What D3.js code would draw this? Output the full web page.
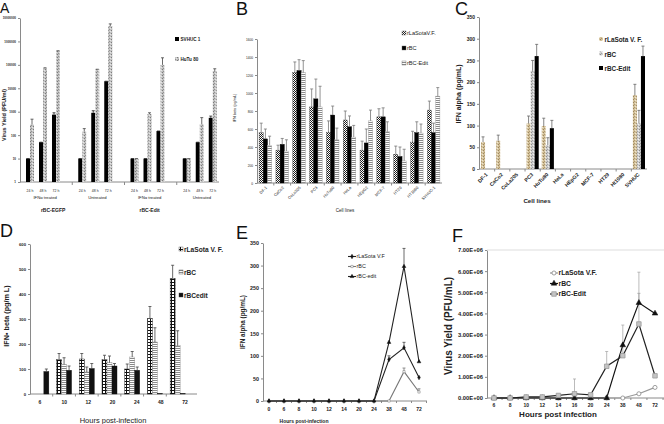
<!DOCTYPE html>
<html><head><meta charset="utf-8">
<script src="https://cdn.jsdelivr.net/npm/d3@7"></script>
<style>body{margin:0;background:#fff}svg{display:block}</style>
</head><body><svg id="c" width="664" height="424"></svg>
<script>
// ---------- Panel A ----------
const aTimes = ["24 h","48 h","72 h"];
const aConditions = ["IFNα treated","Untreated","IFNα treated","Untreated"];
const aViruses = ["rBC-EGFP","rBC-Edit"];
const aSeries = ["SVHUC 1","HuTu 80"];
const aSVHUC =    [10,50,750,   10,900,20000,   10,10,150,    10,50,550];
const aSVHUCErr = [10,50,900,   10,1100,20000,  10,10,150,    10,50,650];
const aHuTu =     [280,70000,400000, 140,65000,4500000, 10,800,100000, 10,300,55000];
const aHuTuErr =  [480,75000,400000, 190,65000,5600000, 10,900,200000, 10,560,68000];
const aTicks = [1,10,100,1000,10000,100000,1000000,10000000];
// ---------- Panel B ----------
const bCells = ["DF-1","CaCo2","CoLo205","PC3","HuTu80","HeLa","HEpG2","MCF-7","HT29","HT1080","SVHUC-1"];
const bSeries = ["rLaSotaV.F.","rBC","rBC-Edit"];
const bLaSota =    [560,365,1230,845,565,700,365,735,320,455,810];
const bLaSotaErr = [665,420,1345,1045,690,800,465,825,410,575,910];
const bRBC =       [490,430,1250,935,755,625,445,735,295,560,560];
const bRBCErr =    [600,495,1370,1155,855,745,600,835,400,680,665];
const bEdit =      [420,355,1225,845,480,510,690,570,245,555,965];
const bEditErr =   [520,480,1360,1075,610,640,810,680,375,655,1060];
const bTicks = [0,200,400,600,800,1000,1200,1400,1600];
// ---------- Panel C ----------
const cCells = ["DF-1","CaCo2","CoLa205","PC3","HuTu80","HeLa","HEpG2","MCF-7","HT29","Ht1080","SVHUC"];
const cSeries = ["rLaSota V. F.","rBC","rBC-Edit"];
const cLaSota =    [62,65,null,105,99,null,null,null,null,null,170];
const cLaSotaErr = [74,78,null,122,117,null,null,null,null,null,195];
const cRBC =       [null,null,null,226,55,null,null,null,null,null,105];
const cRBCErr =    [null,null,null,250,72,null,null,null,null,null,135];
const cEdit =      [null,null,null,260,94,null,null,null,null,null,260];
const cEditErr =   [null,null,null,287,112,null,null,null,null,null,283];
const cTicks = [0,50,100,150,200,250,300,350];
// ---------- Panel D ----------
const dHours = ["6","10","12","20","24","48","72"];
const dSeries = ["rLaSota V. F.","rBC","rBCedit"];
const dLaSota =    [null,137,140,137,100,302,462];
const dLaSotaErr = [null,162,162,155,120,350,515];
const dRBC =       [null,118,88,125,148,208,193];
const dRBCErr =    [null,145,108,152,170,265,253];
const dEdit =      [90,95,102,112,95,2,2];
const dEditErr =   [100,112,122,122,108,null,null];
const dTicks = [0,100,200,300,400,500,600];
// ---------- Panel E ----------
const eHours = ["0","6","8","10","12","14","20","24","38","48","72"];
const eSeries = ["rLaSota V.F","rBC","rBC-edit"];
const eLaSota =    [0,0,0,0,0,0,0,0,92,118,52];
const eLaSotaErr = [null,null,null,null,null,null,null,null,100,130,null];
const eRBC =       [0,0,0,0,0,0,0,0,0,65,20];
const eRBCErr =    [null,null,null,null,null,null,null,null,null,73,27];
const eEdit =      [0,0,0,0,0,0,0,0,130,298,87];
const eEditErr =   [null,null,null,null,null,null,null,null,null,338,null];
const eTicks = [0,50,100,150,200,250,300,350];
// ---------- Panel F ----------
const fHours = ["6","8","10","12","14","16","20","24","38","48","72"];
const fSeries = ["rLaSota V.F.","rBC","rBC-Edit"];
const fLaSota =    [0,0,0,0,0,0,0,0,0,200000,500000];
const fRBC =       [0,0,0,0,0,0,0,0,2500000,4500000,4000000];
const fRBCErr =    [null,null,null,null,null,null,null,null,null,4950000,null];
const fEdit =      [0,0,50000,50000,120000,200000,150000,1500000,2000000,3500000,1050000];
const fEditErr =   [null,null,null,null,null,900000,null,2200000,3450000,5950000,null];
const fTicks = [0,1e6,2e6,3e6,4e6,5e6,6e6,7e6];

const FONT = '"Liberation Sans", Arial, sans-serif';
const svg = d3.select("#c").attr("font-family", FONT);
svg.append("rect").attr("width",664).attr("height",424).attr("fill","#fff");
const defs = svg.append("defs");
function pat(id, w, h, bg, cells, col){
  const p = defs.append("pattern").attr("id",id).attr("patternUnits","userSpaceOnUse").attr("width",w).attr("height",h);
  p.append("rect").attr("width",w).attr("height",h).attr("fill",bg);
  cells.forEach(c => p.append("rect").attr("x",c[0]).attr("y",c[1]).attr("width",c[2]).attr("height",c[3]).attr("fill",c[4]||col));
}
pat("speckGray",3,3,"#c2c2c2",[[0,0,1,1,"#7c7c7c"],[2,1,1,1,"#e6e6e6"],[1,2,1,1,"#939393"]]);
pat("speckGray2",3,3,"#cfcfcf",[[0,0,1,1,"#8e8e8e"],[2,1,1,1,"#f2f2f2"],[1,2,1,1,"#a4a4a4"]]);
pat("tan",3,3,"#d3c19a",[[0,0,1,1,"#9c8660"],[2,1,1,1,"#efe6d0"],[1,2,1,1,"#b09a70"]]);
pat("checker",2,2,"#fff",[[0,0,1,1],[1,1,1,1]],"#1e1e1e");
pat("hstripe",3,2,"#fff",[[0,0,3,1]],"#8a8a8a");
pat("grid",3,3,"#fff",[[0,0,3,1],[0,0,1,3]],"#111");

function yAxis(x, scale, ticks, fmt, fs, fw){
  const g = svg.append("g").attr("transform",`translate(${x},0)`)
    .call(d3.axisLeft(scale).tickValues(ticks).tickFormat(fmt).tickSize(2).tickSizeOuter(0).tickPadding(2));
  g.attr("font-family",FONT);
  g.select(".domain").attr("stroke","#8a8a8a");
  g.selectAll(".tick line").attr("stroke","#8a8a8a");
  g.selectAll("text").attr("font-size",fs).attr("font-weight",fw||"normal").attr("fill","#222");
  return g;
}
function hline(x1,x2,y,col){ svg.append("line").attr("x1",x1).attr("x2",x2).attr("y1",y).attr("y2",y).attr("stroke",col||"#8a8a8a").attr("stroke-width",1); }
function text(x,y,s,fs,opt){
  opt = opt||{};
  const t = svg.append("text").attr("x",x).attr("y",y).text(s).attr("font-size",fs)
    .attr("font-weight",opt.fw||"normal").attr("text-anchor",opt.anchor||"start").attr("fill",opt.fill||"#222");
  if(opt.rot) t.attr("transform",`rotate(${opt.rot},${x},${y})`);
  return t;
}
function errBar(g, x, y0, y1, col, cap){
  g.append("line").attr("x1",x).attr("x2",x).attr("y1",y0).attr("y2",y1).attr("stroke",col).attr("stroke-width",0.8);
  g.append("line").attr("x1",x-cap).attr("x2",x+cap).attr("y1",y1).attr("y2",y1).attr("stroke",col).attr("stroke-width",0.8);
}
// panel letters
text(0,12.8,"A",14,{fill:"#111"});
[["B",236,15],["C",455,15],["D",0,237],["E",236,239],["F",452,242]].forEach(p=>text(p[1],p[2],p[0],18,{fill:"#111"}));

// ===== Panel A =====
(function(){
  const y = d3.scaleLog().domain([1,1e7]).range([182,18]);
  const x0 = d3.scaleBand().domain(d3.range(aConditions.length)).range([17,226]);
  const x1 = d3.scalePoint().domain(aTimes).range([13,39]);
  const bw = 4;
  yAxis(20, y, aTicks, d3.format("d"), 3, "bold");
  hline(20,219,182);
  d3.range(1,aConditions.length).forEach(i=>{ const xx = x0(i)+3; svg.append("line").attr("x1",xx).attr("x2",xx).attr("y1",182).attr("y2",185).attr("stroke","#8a8a8a"); });
  const g = svg.append("g");
  const rows = [];
  aConditions.forEach((c,ci)=>aTimes.forEach((t,ti)=>rows.push({ci,t,i:ci*3+ti})));
  rows.forEach(r=>{
    const cx = x0(r.ci)+x1(r.t);
    g.append("rect").attr("x",cx-bw).attr("width",bw).attr("y",y(aSVHUC[r.i])).attr("height",y(1)-y(aSVHUC[r.i])).attr("fill","#000");
    g.append("rect").attr("x",cx).attr("width",bw).attr("y",y(aHuTu[r.i])).attr("height",y(1)-y(aHuTu[r.i])).attr("fill","url(#speckGray)");
    errBar(g, cx-bw/2, y(aSVHUC[r.i]), y(aSVHUCErr[r.i]), "#222", 1.5);
    errBar(g, cx+bw/2, y(aHuTu[r.i]), y(aHuTuErr[r.i]), "#444", 1.5);
    text(cx,192,r.t,3.5,{anchor:"middle"});
  });
  aConditions.forEach((c,ci)=>text(x0(ci)+x0.bandwidth()/2+2,198.5,c,4.2,{anchor:"middle"}));
  aViruses.forEach((v,vi)=>text(x0(vi*2)+x0.bandwidth()/2+(vi?2:10),212,v,5,{anchor:"middle",fw:"bold"}));
  text(6,115,"Virus Yield (PFU/ml)",5.5,{anchor:"middle",fw:"bold",rot:-90});
  aSeries.forEach((s,i)=>{
    svg.append("rect").attr("x",175).attr("y",37+i*20).attr("width",4).attr("height",4).attr("fill",i?"url(#speckGray)":"#000");
    text(180.5,41+i*20,s,4.6,{fw:"bold"});
  });
})();

// ===== Grouped bar helper =====
function groupBars(cfg){
  const y = d3.scaleLinear().domain(cfg.ydom).range(cfg.yr);
  const x0 = d3.scaleBand().domain(cfg.cats).range(cfg.xr).paddingInner(cfg.pi).paddingOuter(cfg.po);
  const x1 = d3.scaleBand().domain(cfg.series).range([0,x0.bandwidth()]);
  yAxis(cfg.axisX, y, cfg.ticks, cfg.fmt||d3.format("d"), cfg.tfs, cfg.tfw);
  hline(cfg.axisX, cfg.axisEnd, cfg.yr[0]);
  cfg.cats.forEach((c,i)=>{ if(i>0){ const xx=x0(c)-x0.step()*x0.paddingInner()/2; svg.append("line").attr("x1",xx).attr("x2",xx).attr("y1",cfg.yr[0]).attr("y2",cfg.yr[0]+2.5).attr("stroke","#8a8a8a"); }});
  const g = svg.append("g");
  cfg.series.forEach((s,si)=>{
    cfg.vals[si].forEach((v,ci)=>{
      if(v==null) return;
      const xx = x0(cfg.cats[ci])+x1(s);
      g.append("rect").attr("x",xx).attr("width",x1.bandwidth()).attr("y",y(v)).attr("height",y(0)-y(v)).attr("fill",cfg.fills[si])
        .attr("stroke",cfg.strokes?cfg.strokes[si]:"none").attr("stroke-width",0.4);
      const e = cfg.errs[si][ci];
      if(e!=null) errBar(g, xx+x1.bandwidth()/2, y(v), y(e), cfg.errCol, 1.5);
    });
  });
  return {x0,y};
}

// ===== Panel B =====
(function(){
  const r = groupBars({ydom:[0,1600], yr:[183,39], cats:bCells, series:bSeries, xr:[257,442], pi:0.25, po:0.125,
    axisX:257, axisEnd:442, ticks:bTicks, tfs:3.2, vals:[bLaSota,bRBC,bEdit], errs:[bLaSotaErr,bRBCErr,bEditErr],
    fills:["url(#checker)","#000","url(#hstripe)"], strokes:["#555","#000","#999"], errCol:"#777"});
  bCells.forEach(c=>text(r.x0(c)+r.x0.bandwidth()/2+2,188,c,4,{anchor:"end",rot:-45}));
  text(345,212,"Cell lines",4.6,{anchor:"middle"});
  text(236,108,"IFN beta (pg/mL)",3.8,{anchor:"middle",rot:-90});
  const lf = ["url(#checker)","#000","url(#hstripe)"];
  bSeries.forEach((s,i)=>{
    svg.append("rect").attr("x",402).attr("y",31+i*15).attr("width",4).attr("height",4).attr("fill",lf[i]).attr("stroke","#666").attr("stroke-width",0.4);
    text(407,35+i*15,s,5.6,{});
  });
})();

// ===== Panel C =====
(function(){
  const r = groupBars({ydom:[0,350], yr:[169,17], cats:cCells, series:cSeries, xr:[481,645], pi:0.2, po:0,
    axisX:479, axisEnd:647, ticks:cTicks, tfs:5, tfw:"bold", vals:[cLaSota,cRBC,cEdit], errs:[cLaSotaErr,cRBCErr,cEditErr],
    fills:["url(#tan)","url(#speckGray2)","#000"], errCol:"#666"});
  cCells.forEach(c=>text(r.x0(c)+r.x0.bandwidth()/2+1,175,c,5.2,{anchor:"end",rot:-45,fw:"bold"}));
  text(537,203,"Cell lines",6.2,{anchor:"middle",fw:"bold"});
  text(461,94,"IFN alpha (pg/mL)",7,{anchor:"middle",fw:"bold",rot:-90});
  const lf = ["url(#tan)","url(#speckGray2)","#000"];
  cSeries.forEach((s,i)=>{
    svg.append("rect").attr("x",599).attr("y",37+i*14.5).attr("width",4).attr("height",4).attr("fill",lf[i]);
    text(604.5,42+i*14.5,s,6.4,{fw:"bold"});
  });
})();

// ===== Panel D =====
(function(){
  const r = groupBars({ydom:[0,600], yr:[394,244], cats:dHours, series:dSeries, xr:[30,189], pi:0.34, po:0.17,
    axisX:30, axisEnd:197, ticks:dTicks, tfs:4.2, tfw:"bold", vals:[dLaSota,dRBC,dEdit], errs:[dLaSotaErr,dRBCErr,dEditErr],
    fills:["url(#grid)","url(#hstripe)","#111"], strokes:["#111","#888","#111"], errCol:"#444"});
  const xl = d3.scalePoint().domain(dHours).range([40,185]);
  dHours.forEach(h=>text(xl(h),404,h,5,{anchor:"middle",fw:"bold"}));
  text(113,423,"Hours post-infection",7.5,{anchor:"middle"});
  text(9,316,"IFN\u25AA beta (pg/m L)",7.2,{anchor:"middle",fw:"bold",rot:-90});
  const lf = ["url(#grid)","url(#hstripe)","#111"];
  dSeries.forEach((s,i)=>{
    svg.append("rect").attr("x",179).attr("y",247+i*23).attr("width",4).attr("height",4).attr("fill",lf[i]).attr("stroke","#444").attr("stroke-width",0.4);
    text(184,251.5+i*23,s,6.6,{fw:"bold"});
  });
})();

// ===== Line helper =====
const symMap = {diamond:d3.symbolDiamond, square:d3.symbolSquare, triangle:d3.symbolTriangle, circle:d3.symbolCircle};
function marker(g,x,y,m){
  g.append("path").attr("d",d3.symbol().type(symMap[m.type]).size(m.size)()).attr("transform",`translate(${x},${y})`)
    .attr("fill",m.fill).attr("stroke",m.stroke).attr("stroke-width",m.sw||0.5);
}
function linePanel(cfg){
  const y = d3.scaleLinear().domain(cfg.ydom).range(cfg.yr);
  const x = d3.scalePoint().domain(cfg.cats).range(cfg.xr);
  yAxis(cfg.axisX, y, cfg.ticks, cfg.fmt, cfg.tfs, "bold");
  hline(cfg.axisX, cfg.axisEnd, cfg.yr[0]);
  cfg.cats.forEach(c=>{ svg.append("line").attr("x1",x(c)+x.step()/2).attr("x2",x(c)+x.step()/2).attr("y1",cfg.yr[0]).attr("y2",cfg.yr[0]+2).attr("stroke","#8a8a8a"); });
  const g = svg.append("g");
  cfg.vals.forEach((vals,si)=>{
    const errs = cfg.errs[si];
    if(errs) errs.forEach((e,i)=>{ if(e!=null) errBar(g, x(cfg.cats[i]), y(vals[i]), y(e), cfg.errCol[si], 1.5); });
  });
  cfg.vals.forEach((vals,si)=>{
    g.append("path").datum(vals).attr("fill","none").attr("stroke",cfg.lineCol[si]).attr("stroke-width",cfg.lw)
      .attr("d", d3.line().x((d,i)=>x(cfg.cats[i])).y(d=>y(d)));
  });
  cfg.vals.forEach((vals,si)=>vals.forEach((v,i)=>marker(g,x(cfg.cats[i]),y(v),cfg.markers[si])));
  cfg.cats.forEach(c=>text(x(c),cfg.labY,c,cfg.lfs,{anchor:"middle",fw:"bold"}));
  cfg.series.forEach((s,i)=>{
    const ly = cfg.legY[i];
    svg.append("line").attr("x1",cfg.legX-4).attr("x2",cfg.legX+4).attr("y1",ly).attr("y2",ly).attr("stroke",cfg.lineCol[i]).attr("stroke-width",cfg.lw);
    marker(svg,cfg.legX,ly,cfg.markers[i]);
    text(cfg.legX+4.5,ly+cfg.legFs*0.35,s,cfg.legFs,{fw:cfg.legFw});
  });
  return {x,y};
}

// ===== Panel E =====
linePanel({ydom:[0,350], yr:[401,243], cats:eHours, xr:[269,419], axisX:263, axisEnd:427, ticks:eTicks, fmt:d3.format("d"), tfs:5.4,
  vals:[eLaSota,eRBC,eEdit], errs:[eLaSotaErr,eRBCErr,eEditErr], errCol:["#444","#777","#444"],
  lineCol:["#222","#777","#222"], lw:1.1,
  markers:[{type:"diamond",size:6,fill:"#111",stroke:"#111"},{type:"square",size:5,fill:"#fff",stroke:"#777"},{type:"triangle",size:6,fill:"#111",stroke:"#111"}],
  labY:411, lfs:5, series:eSeries, legX:352, legY:[256.5,266.5,276.5], legFs:5.4, legFw:"normal"});
text(304,422.5,"Hours post-infection",5,{anchor:"middle",fw:"bold"});
text(245,322,"IFN alpha (pg/mL)",6.4,{anchor:"middle",fw:"bold",rot:-90});

// ===== Panel F =====
const fFmt = v => (v/1e6).toFixed(2)+"E+"+(v===0?"00":"06");
linePanel({ydom:[0,7e6], yr:[398,250], cats:fHours, xr:[494,655], axisX:487, axisEnd:664, ticks:fTicks, fmt:fFmt, tfs:5.8,
  vals:[fLaSota,fRBC,fEdit], errs:[null,fRBCErr,fEditErr], errCol:["#999","#999","#aaa"],
  lineCol:["#999","#111","#222"], lw:1.2,
  markers:[{type:"circle",size:13,fill:"#fff",stroke:"#888",sw:0.8},{type:"triangle",size:14,fill:"#111",stroke:"#111"},{type:"square",size:20,fill:"#c4c4c4",stroke:"#9a9a9a",sw:0.8}],
  labY:407, lfs:5, series:fSeries, legX:554, legY:[273,283.5,294], legFs:6.8, legFw:"bold"});
svg.append("line").attr("x1",487).attr("x2",664).attr("y1",250).attr("y2",250).attr("stroke","#ddd");
text(558,417,"Hours post infection",8,{anchor:"middle",fw:"bold"});
text(452,326,"Virus Yield  (PFU/mL)",10,{anchor:"middle",fw:"bold",rot:-90});
</script></body></html>
